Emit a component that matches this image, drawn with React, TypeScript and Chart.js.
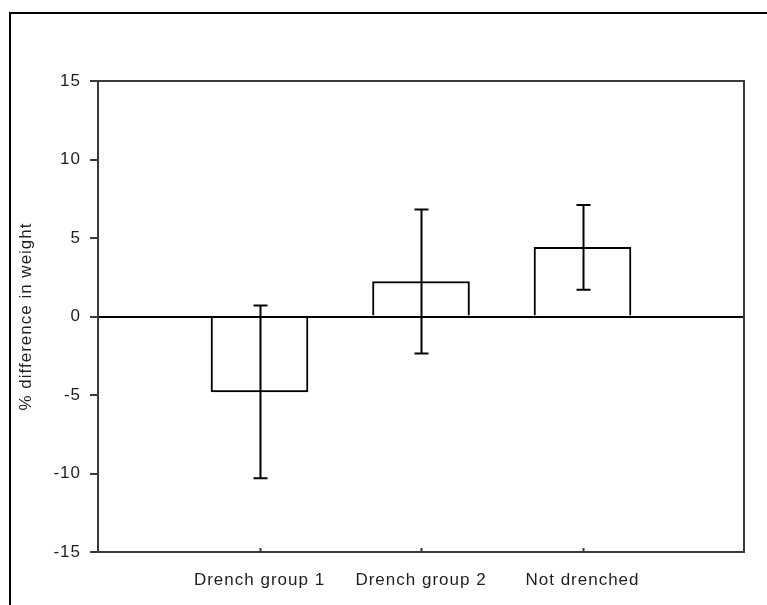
import React, { useEffect, useRef } from 'react';
import { Chart, registerables } from 'chart.js';

Chart.register(...registerables);

const categories = ['Drench group 1', 'Drench group 2', 'Not drenched'];
const means = [-4.8, 2.23, 4.4];
const errors = [5.5, 4.58, 2.7];
const yTicks = [-15, -10, -5, 0, 5, 10, 15];
const yTitle = '% difference in weight';

const FONT = '"Liberation Sans", Arial, sans-serif';
const TEXT = '#1e1e1e';

export default function App() {
  const ref = useRef<HTMLCanvasElement | null>(null);

  useEffect(() => {
    if (!ref.current) return;
    const labels = ['', ...categories, ''];
    const values = [null, ...means, null];
    const errs = [null, ...errors, null];

    const decor = {
      id: 'decor',
      beforeDraw(chart: any) {
        chart.ctx.letterSpacing = '1px';
      },
      afterDatasetsDraw(chart: any) {
        const ctx = chart.ctx;
        const xs = chart.scales.x;
        const ys = chart.scales.y;
        const a = chart.chartArea;
        ctx.save();
        ctx.strokeStyle = '#000';
        ctx.lineWidth = 2;
        const y0 = Math.round(ys.getPixelForValue(0));
        ctx.beginPath();
        ctx.moveTo(a.left, y0);
        ctx.lineTo(a.right, y0);
        ctx.stroke();
        values.forEach((v, i) => {
          const e = errs[i];
          if (v == null || e == null) return;
          const x = Math.round(xs.getPixelForValue(i)) + 0.5;
          const yt = ys.getPixelForValue(v + e);
          const yb = ys.getPixelForValue(v - e);
          ctx.beginPath();
          ctx.moveTo(x, yt);
          ctx.lineTo(x, yb);
          ctx.moveTo(x - 7, yt);
          ctx.lineTo(x + 7, yt);
          ctx.moveTo(x - 7, yb);
          ctx.lineTo(x + 7, yb);
          ctx.stroke();
        });
        ctx.restore();
      },
      afterDraw(chart: any) {
        const ctx = chart.ctx;
        const a = chart.chartArea;
        const xs = chart.scales.x;
        ctx.save();
        ctx.strokeStyle = '#3a3a3a';
        ctx.lineWidth = 2;
        ctx.strokeRect(a.left, a.top, a.right - a.left, a.bottom - a.top);
        ctx.beginPath();
        categories.forEach((_, i) => {
          const x = Math.round(xs.getPixelForValue(i + 1)) + 0.5;
          ctx.moveTo(x, a.bottom);
          ctx.lineTo(x, a.bottom - 4);
        });
        ctx.stroke();
        ctx.strokeStyle = '#000';
        ctx.lineWidth = 2;
        ctx.beginPath();
        ctx.moveTo(10, chart.height + 5);
        ctx.lineTo(10, 13);
        ctx.lineTo(chart.width + 5, 13);
        ctx.stroke();
        ctx.restore();
      },
    };

    const chart = new Chart(ref.current, {
      type: 'bar',
      data: {
        labels,
        datasets: [
          {
            data: values as any,
            backgroundColor: '#ffffff',
            borderColor: '#000000',
            borderWidth: 2,
            borderSkipped: 'start',
            barThickness: 97,
          },
        ],
      },
      options: {
        animation: false,
        responsive: false,
        events: [],
        layout: { padding: { left: 0, top: 81, right: 23, bottom: 0 } },
        plugins: { legend: { display: false }, tooltip: { enabled: false } },
        scales: {
          x: {
            type: 'category',
            offset: false,
            grid: { display: false },
            border: { display: false },
            ticks: {
              autoSkip: false,
              maxRotation: 0,
              padding: 10,
              color: TEXT,
              font: { family: FONT, size: 17 },
            },
            afterFit: (s: any) => {
              s.height = 53;
            },
          },
          y: {
            min: -15,
            max: 15,
            border: { display: false },
            afterBuildTicks: (s: any) => {
              s.ticks = yTicks.map((v) => ({ value: v }));
            },
            grid: {
              drawOnChartArea: false,
              tickLength: 8,
              lineWidth: 2,
              tickWidth: 2,
              tickColor: '#3a3a3a',
            },
            ticks: {
              padding: 9,
              color: TEXT,
              font: { family: FONT, size: 17 },
            },
            title: {
              display: true,
              text: yTitle,
              color: TEXT,
              font: { family: FONT, size: 17 },
              padding: { top: 16, bottom: 0 },
            },
            afterFit: (s: any) => {
              s.width = 98;
            },
          },
        },
      },
      plugins: [decor],
    });
    return () => chart.destroy();
  }, []);

  return (
    <div style={{ position: 'fixed', left: 0, top: 0, width: 767, height: 605, background: '#fff' }}>
      <canvas ref={ref} width={767} height={605} style={{ display: 'block' }} />
    </div>
  );
}
